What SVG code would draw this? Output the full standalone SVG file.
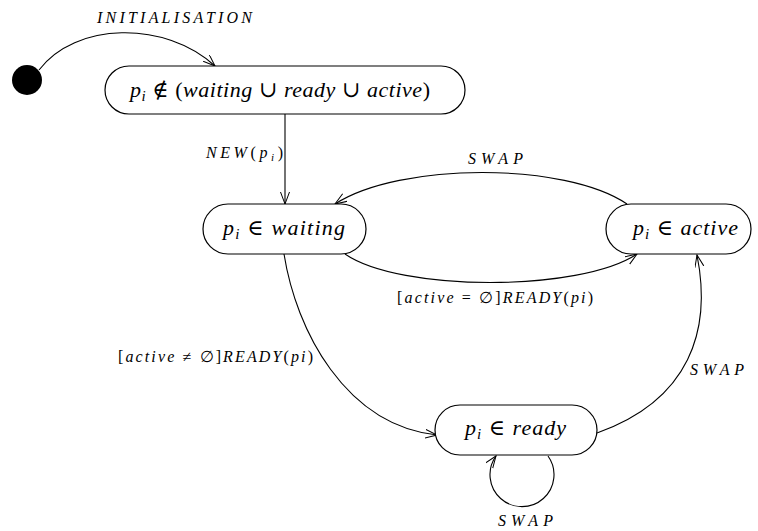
<svg xmlns="http://www.w3.org/2000/svg" width="758" height="531" viewBox="0 0 758 531">
<defs>
<marker id="arr" markerUnits="userSpaceOnUse" markerWidth="14" markerHeight="10" refX="12" refY="4.5" orient="auto">
<path d="M0,0 L12,4.5 L0,9" fill="none" stroke="#000" stroke-width="1"/>
</marker>
</defs>
<style>
.box{fill:#fff;stroke:#000;stroke-width:1.2}
.edge{fill:none;stroke:#000;stroke-width:1.1;marker-end:url(#arr)}
.st{font-family:"Liberation Serif","DejaVu Serif",serif;font-style:italic;font-size:22px;fill:#000}
.lbl{font-family:"Liberation Serif","DejaVu Serif",serif;font-style:italic;font-size:16px;fill:#000}
.up{font-style:normal}
</style>
<rect width="758" height="531" fill="#fff"/>
<g id="connectors">
<path class="edge" d="M39,70 C75,22 165,20 215,66"/>
<path class="edge" d="M285,114 L285,204"/>
<path class="edge" d="M627,204 C565,162 400,162 335,204"/>
<path class="edge" d="M345,254 C400,292 580,292 637,254"/>
<path class="edge" d="M284,254 C296,330 345,425 437,435"/>
<path class="edge" d="M597,433 C690,400 712,330 697,255"/>
<path class="edge" d="M548,456 A32,32 0 1 1 496,456"/>
<text class="lbl" x="97" y="23" textLength="155" lengthAdjust="spacing">INITIALISATION</text>
<text class="lbl" x="206" y="158" textLength="77" lengthAdjust="spacing">NEW<tspan class="up">(</tspan>p<tspan font-size="11" dy="3">i</tspan><tspan class="up" dy="-3">)</tspan></text>
<text class="lbl" x="468" y="164" textLength="55" lengthAdjust="spacing">SWAP</text>
<text class="lbl" x="397" y="303" textLength="196" lengthAdjust="spacing"><tspan class="up">[</tspan>active <tspan class="up">= ∅]</tspan>READY<tspan class="up">(</tspan>pi<tspan class="up">)</tspan></text>
<text class="lbl" x="118" y="362" textLength="195" lengthAdjust="spacing"><tspan class="up">[</tspan>active <tspan class="up">≠ ∅]</tspan>READY<tspan class="up">(</tspan>pi<tspan class="up">)</tspan></text>
<text class="lbl" x="690" y="375" textLength="54" lengthAdjust="spacing">SWAP</text>
<text class="lbl" x="498" y="526" textLength="55" lengthAdjust="spacing">SWAP</text>
</g>
<g id="initial">
<circle cx="27" cy="80" r="15" fill="#000"/>
</g>
<g id="none">
<rect class="box" x="105" y="66" width="360" height="48" rx="24" ry="24"/>
<text class="st" x="130" y="97" textLength="300" lengthAdjust="spacing">p<tspan font-size="15" dy="4">i</tspan><tspan class="up" dy="-4"> ∉ (</tspan>waiting <tspan class="up">∪</tspan> ready <tspan class="up">∪</tspan> active<tspan class="up">)</tspan></text>
</g>
<g id="waiting">
<rect class="box" x="203" y="204" width="163" height="50" rx="25" ry="25"/>
<text class="st" x="223" y="235" textLength="122" lengthAdjust="spacing">p<tspan font-size="15" dy="4">i</tspan><tspan class="up" dy="-4"> ∈ </tspan>waiting</text>
</g>
<g id="active">
<rect class="box" x="606" y="204" width="145" height="50" rx="25" ry="25"/>
<text class="st" x="633" y="235" textLength="105" lengthAdjust="spacing">p<tspan font-size="15" dy="4">i</tspan><tspan class="up" dy="-4"> ∈ </tspan>active</text>
</g>
<g id="ready">
<rect class="box" x="435" y="405" width="162" height="50" rx="25" ry="25"/>
<text class="st" x="465" y="435" textLength="101" lengthAdjust="spacing">p<tspan font-size="15" dy="4">i</tspan><tspan class="up" dy="-4"> ∈ </tspan>ready</text>
</g>
</svg>
